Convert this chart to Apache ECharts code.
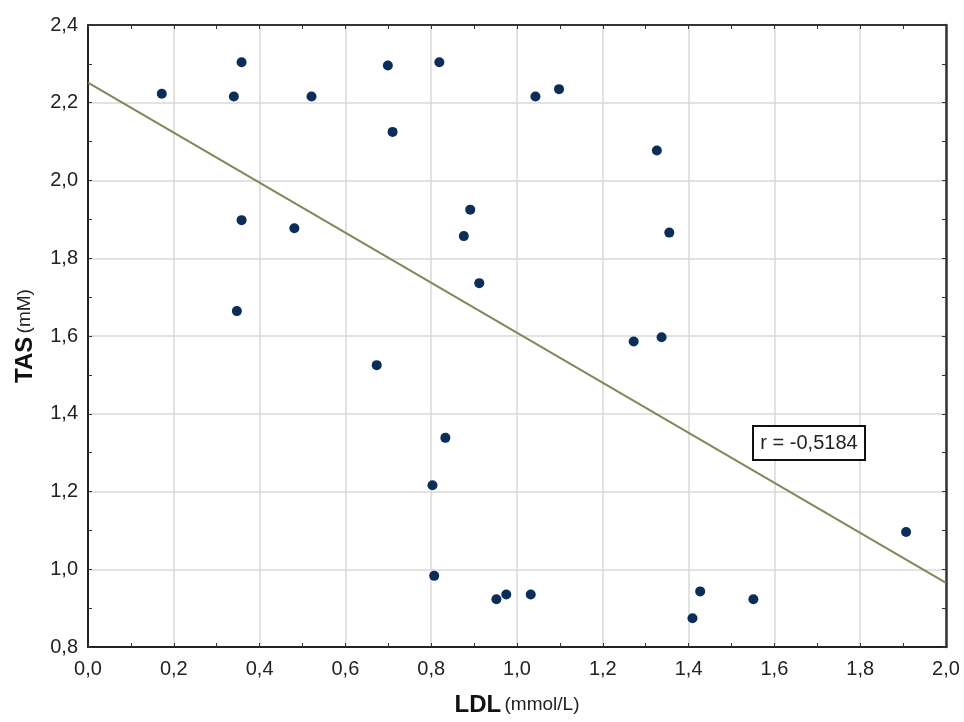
<!DOCTYPE html>
<html>
<head>
<meta charset="utf-8">
<script src="https://cdn.jsdelivr.net/npm/echarts@6/dist/echarts.min.js"></script>
<style>
html,body{margin:0;padding:0;background:#fff;}
#chart{width:964px;height:722px;}
</style>
</head>
<body>
<div id="chart"></div>
<script>
// LDL (mmol/L) values
const ldl = [0.172, 0.358, 0.340, 0.521, 0.699, 0.819, 0.710, 0.358, 0.481, 0.891,
             0.876, 0.912, 0.347, 1.043, 1.098, 1.326, 1.355, 1.272, 1.337, 0.673,
             0.833, 0.803, 0.807, 0.952, 0.975, 1.032, 1.409, 1.427, 1.551, 1.907];
// TAS (mM) values
const tas = [2.223, 2.304, 2.216, 2.216, 2.296, 2.304, 2.125, 1.898, 1.877, 1.925,
             1.857, 1.736, 1.664, 2.216, 2.235, 2.077, 1.866, 1.586, 1.597, 1.525,
             1.338, 1.216, 0.983, 0.923, 0.935, 0.935, 0.874, 0.943, 0.923, 1.096];
// Regression line endpoints
const regX = [0.0, 2.0];
const regY = [2.252, 0.965];
const annotationText = 'r = -0,5184';
const xTitle = 'LDL';
const xUnit = '(mmol/L)';
const yTitle = 'TAS';
const yUnit = '(mM)';

const fmt = v => v.toFixed(1).replace('.', ',');
const font = '"Liberation Sans", Arial, sans-serif';

const chart = echarts.init(document.getElementById('chart'), null, {renderer: 'canvas'});

const tickCommon = {show: true, inside: true, length: 4, lineStyle: {color: '#333', width: 1}};
const minorCommon = {show: true, splitNumber: 2, length: 4, lineStyle: {color: '#333', width: 1}};

chart.setOption({
  animation: false,
  backgroundColor: '#fff',
  grid: {left: 88, right: 18, top: 25, bottom: 75, containLabel: false},
  xAxis: [{
    type: 'value', min: 0, max: 2, interval: 0.2,
    axisLine: {show: true, onZero: false, lineStyle: {color: '#222', width: 2}},
    axisTick: tickCommon,
    minorTick: minorCommon,
    splitLine: {show: true, lineStyle: {color: '#d9d9d9', width: 1.5}},
    axisLabel: {formatter: fmt, fontFamily: font, fontSize: 20, color: '#222', margin: 12},
    name: '{b|' + xTitle + '} {n|' + xUnit + '}',
    nameLocation: 'middle', nameGap: 46,
    nameTextStyle: {rich: {
      b: {fontFamily: font, fontSize: 24, fontWeight: 'bold', color: '#111'},
      n: {fontFamily: font, fontSize: 19, color: '#222'}
    }}
  }, {
    type: 'value', min: 0, max: 2, interval: 0.2, position: 'top',
    axisLine: {show: true, onZero: false, lineStyle: {color: '#333', width: 2}},
    axisTick: tickCommon, minorTick: minorCommon,
    splitLine: {show: false}, axisLabel: {show: false}
  }],
  yAxis: [{
    type: 'value', min: 0.8, max: 2.4, interval: 0.2,
    axisLine: {show: true, onZero: false, lineStyle: {color: '#222', width: 2}},
    axisTick: tickCommon,
    minorTick: minorCommon,
    splitLine: {show: true, lineStyle: {color: '#d9d9d9', width: 1.5}},
    axisLabel: {formatter: fmt, fontFamily: font, fontSize: 20, color: '#222', margin: 10},
    name: '{b|' + yTitle + '} {n|' + yUnit + '}',
    nameLocation: 'middle', nameGap: 51, nameRotate: 90,
    nameTextStyle: {rich: {
      b: {fontFamily: font, fontSize: 24, fontWeight: 'bold', color: '#111'},
      n: {fontFamily: font, fontSize: 19, color: '#222'}
    }}
  }, {
    type: 'value', min: 0.8, max: 2.4, interval: 0.2, position: 'right',
    axisLine: {show: true, onZero: false, lineStyle: {color: '#333', width: 2.5}},
    axisTick: tickCommon, minorTick: minorCommon,
    splitLine: {show: false}, axisLabel: {show: false}
  }],
  series: [{
    type: 'line',
    data: regX.map((x, i) => [x, regY[i]]),
    symbol: 'none',
    lineStyle: {color: '#7c8a58', width: 2},
    z: 2,
    silent: true
  }, {
    type: 'scatter',
    data: ldl.map((x, i) => [x, tas[i]]),
    symbol: 'circle',
    symbolSize: 10,
    itemStyle: {color: '#0c2c5a', opacity: 1},
    z: 3
  }],
  graphic: [{
    type: 'rect',
    shape: {x: 753, y: 426, width: 112, height: 34},
    style: {fill: '#fff', stroke: '#111', lineWidth: 2},
    z: 100
  }, {
    type: 'text',
    x: 809, y: 443,
    style: {text: annotationText, fontFamily: font, fontSize: 20, fill: '#222',
            align: 'center', verticalAlign: 'middle'},
    z: 101
  }]
});
</script>
</body>
</html>
